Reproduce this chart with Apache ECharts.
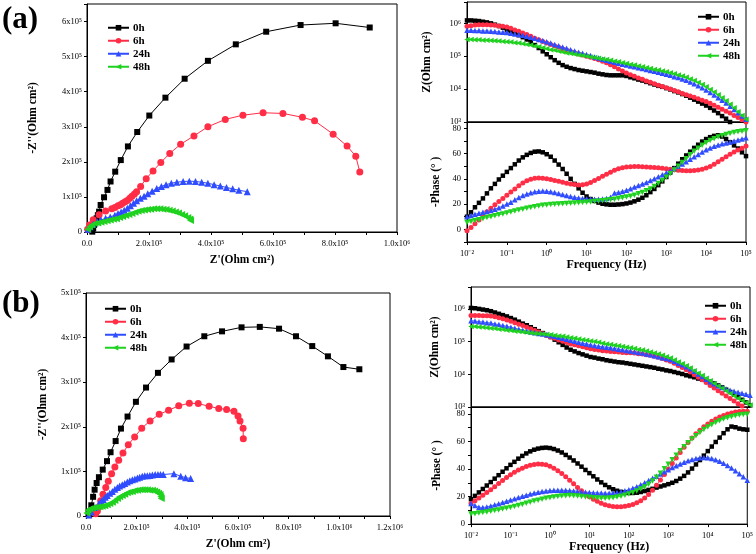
<!DOCTYPE html>
<html><head><meta charset="utf-8">
<script src="https://cdn.jsdelivr.net/npm/echarts@6/dist/echarts.min.js"></script>
<style>html,body{margin:0;padding:0;background:#fff}#c{width:756px;height:554px}</style>
</head><body><div id="c"></div>
<script>
// ---------------- DATA ----------------
const seriesNames = ['0h', '6h', '24h', '48h'];

// Nyquist (a) : [Z', -Z''] in units of 1e5 Ohm cm2
const nyqA_0h = [[0.17,0.01],[0.2,0.1],[0.23,0.2],[0.27,0.3],[0.31,0.39],[0.35,0.48],[0.39,0.58],[0.44,0.77],[0.55,0.99],[0.66,1.2],[0.76,1.44],[0.91,1.72],[1.09,2.05],[1.32,2.44],[1.62,2.85],[2.01,3.32],[2.53,3.83],[3.15,4.37],[3.9,4.88],[4.8,5.35],[5.78,5.71],[6.89,5.9],[8.02,5.95],[9.12,5.83]];
const nyqA_6h = [[0.02,0.08],[0.08,0.2],[0.2,0.35],[0.39,0.49],[0.6,0.6],[0.8,0.66],[0.9,0.7],[1.0,0.75],[1.08,0.78],[1.15,0.82],[1.23,0.86],[1.3,0.9],[1.38,0.96],[1.45,1.02],[1.53,1.08],[1.6,1.15],[1.73,1.3],[1.91,1.52],[2.13,1.74],[2.38,1.98],[2.67,2.24],[3.02,2.5],[3.45,2.74],[3.9,3.0],[4.46,3.21],[5.03,3.33],[5.68,3.4],[6.32,3.38],[6.95,3.27],[7.34,3.17],[7.94,2.79],[8.39,2.45],[8.67,2.16],[8.8,1.71]];
const nyqA_24h = [[0.03,0.08],[0.1,0.15],[0.2,0.22],[0.33,0.29],[0.45,0.34],[0.6,0.39],[0.75,0.43],[0.9,0.48],[1.0,0.53],[1.1,0.57],[1.2,0.62],[1.3,0.68],[1.4,0.75],[1.5,0.82],[1.6,0.89],[1.72,0.96],[1.84,1.02],[1.96,1.09],[2.1,1.16],[2.25,1.24],[2.4,1.3],[2.55,1.35],[2.72,1.39],[2.9,1.42],[3.1,1.44],[3.3,1.45],[3.5,1.44],[3.7,1.42],[3.9,1.39],[4.1,1.35],[4.3,1.31],[4.5,1.27],[4.7,1.23],[4.9,1.19],[5.17,1.15]];
const nyqA_48h = [[0.02,0.08],[0.08,0.15],[0.15,0.2],[0.25,0.24],[0.35,0.26],[0.45,0.28],[0.55,0.3],[0.65,0.32],[0.75,0.34],[0.85,0.36],[0.95,0.38],[1.05,0.41],[1.15,0.44],[1.25,0.47],[1.35,0.5],[1.45,0.53],[1.55,0.56],[1.65,0.59],[1.75,0.61],[1.85,0.63],[1.95,0.64],[2.05,0.65],[2.15,0.66],[2.25,0.66],[2.35,0.66],[2.45,0.65],[2.55,0.64],[2.65,0.62],[2.75,0.6],[2.85,0.57],[2.95,0.54],[3.05,0.5],[3.15,0.46],[3.25,0.41],[3.32,0.37],[3.34,0.33]];

// Nyquist (b) : [Z', -Z''] in units of 1e5 Ohm cm2
const nyqB_0h = [[0.12,0.02],[0.16,0.09],[0.21,0.24],[0.28,0.43],[0.34,0.59],[0.42,0.74],[0.51,0.87],[0.66,1.04],[0.83,1.23],[0.97,1.43],[1.17,1.68],[1.38,1.96],[1.64,2.23],[1.97,2.56],[2.37,2.88],[2.84,3.21],[3.38,3.51],[3.97,3.8],[4.67,4.03],[5.37,4.14],[6.14,4.23],[6.86,4.24],[7.62,4.2],[8.29,4.03],[8.93,3.81],[9.55,3.58],[10.16,3.34],[10.79,3.29]];
const nyqB_6h = [[0.38,0.05],[0.45,0.11],[0.51,0.2],[0.58,0.34],[0.67,0.49],[0.78,0.64],[0.88,0.78],[1.01,0.95],[1.14,1.1],[1.29,1.25],[1.46,1.41],[1.67,1.6],[1.92,1.77],[2.2,1.97],[2.53,2.13],[2.89,2.28],[3.26,2.37],[3.66,2.47],[4.08,2.53],[4.43,2.52],[4.86,2.46],[5.24,2.41],[5.55,2.39],[5.84,2.35],[6.0,2.24],[6.08,2.13],[6.2,1.97],[6.21,1.73]];
const nyqB_24h = [[0.11,0.02],[0.21,0.09],[0.36,0.19],[0.51,0.28],[0.6,0.33],[0.68,0.37],[0.76,0.42],[0.84,0.46],[0.94,0.51],[1.04,0.55],[1.14,0.6],[1.24,0.64],[1.33,0.67],[1.43,0.7],[1.53,0.73],[1.63,0.76],[1.73,0.79],[1.83,0.81],[1.93,0.83],[2.03,0.85],[2.12,0.87],[2.22,0.89],[2.32,0.9],[2.42,0.9],[2.52,0.91],[2.62,0.92],[2.73,0.93],[2.84,0.93],[2.94,0.93],[3.05,0.93],[3.47,0.95],[3.74,0.89],[3.93,0.86],[4.13,0.84]];
const nyqB_48h = [[0.03,0.07],[0.08,0.13],[0.15,0.16],[0.25,0.18],[0.35,0.19],[0.45,0.2],[0.55,0.21],[0.64,0.22],[0.74,0.23],[0.84,0.25],[0.94,0.28],[1.04,0.31],[1.14,0.35],[1.24,0.39],[1.33,0.43],[1.43,0.46],[1.53,0.49],[1.63,0.52],[1.73,0.54],[1.83,0.55],[1.93,0.57],[2.03,0.58],[2.13,0.59],[2.22,0.59],[2.32,0.59],[2.42,0.59],[2.52,0.58],[2.62,0.58],[2.71,0.56],[2.79,0.54],[2.86,0.51],[2.92,0.48],[2.95,0.43],[2.97,0.39]];

// Bode: log10 of frequency (Hz) at each measured point
const logFreq = [-2,-1.9,-1.8,-1.7,-1.6,-1.5,-1.4,-1.3,-1.2,-1.1,-1,-0.9,-0.8,-0.7,-0.6,-0.5,-0.4,-0.3,-0.2,-0.1,0,0.1,0.2,0.3,0.4,0.5,0.6,0.7,0.8,0.9,1,1.1,1.2,1.3,1.4,1.5,1.6,1.7,1.8,1.9,2,2.1,2.2,2.3,2.4,2.5,2.6,2.7,2.8,2.9,3,3.1,3.2,3.3,3.4,3.5,3.6,3.7,3.8,3.9,4,4.1,4.2,4.3,4.4,4.5,4.6,4.7,4.8,4.9,5];

// Bode (a): log10 |Z| (Ohm cm2)
const bodeA_logZ_0h = [6.09,6.09,6.08,6.07,6.05,6.03,6.00,5.96,5.92,5.87,5.81,5.76,5.70,5.64,5.58,5.51,5.43,5.34,5.25,5.15,5.06,4.97,4.88,4.80,4.73,4.68,4.64,4.61,4.58,4.56,4.54,4.52,4.50,4.47,4.45,4.43,4.42,4.42,4.42,4.42,4.40,4.36,4.33,4.29,4.26,4.22,4.18,4.14,4.10,4.07,4.03,3.99,3.94,3.90,3.85,3.80,3.74,3.68,3.62,3.56,3.50,3.43,3.35,3.27,3.18,3.10,3.00,2.90,2.80,2.70,2.60];
const bodeA_logZ_6h = [5.91,5.93,5.95,5.96,5.96,5.96,5.95,5.94,5.92,5.91,5.89,5.85,5.80,5.76,5.71,5.66,5.61,5.55,5.50,5.45,5.40,5.36,5.31,5.27,5.22,5.18,5.14,5.11,5.07,5.04,5.00,4.97,4.93,4.89,4.85,4.80,4.74,4.68,4.61,4.55,4.49,4.44,4.39,4.34,4.30,4.25,4.21,4.16,4.12,4.08,4.04,4.00,3.96,3.92,3.87,3.83,3.79,3.75,3.71,3.66,3.62,3.57,3.51,3.45,3.39,3.33,3.27,3.20,3.14,3.07,3.00];
const bodeA_logZ_24h = [5.79,5.79,5.78,5.78,5.77,5.77,5.76,5.75,5.74,5.73,5.72,5.70,5.68,5.66,5.64,5.61,5.58,5.55,5.51,5.48,5.44,5.40,5.36,5.32,5.28,5.24,5.20,5.16,5.12,5.09,5.05,5.02,4.98,4.95,4.91,4.88,4.85,4.82,4.79,4.76,4.73,4.70,4.68,4.65,4.63,4.60,4.57,4.54,4.51,4.48,4.45,4.42,4.38,4.35,4.31,4.27,4.22,4.16,4.10,4.04,3.97,3.90,3.82,3.74,3.66,3.58,3.48,3.38,3.28,3.18,3.08];
const bodeA_logZ_48h = [5.51,5.51,5.50,5.50,5.49,5.49,5.48,5.47,5.46,5.45,5.44,5.43,5.41,5.40,5.38,5.36,5.34,5.31,5.29,5.26,5.23,5.20,5.18,5.15,5.13,5.10,5.08,5.06,5.04,5.02,5.00,4.98,4.96,4.94,4.92,4.90,4.88,4.85,4.83,4.80,4.78,4.75,4.73,4.70,4.68,4.65,4.63,4.60,4.58,4.55,4.53,4.50,4.47,4.43,4.40,4.36,4.31,4.26,4.20,4.14,4.07,3.99,3.91,3.83,3.74,3.65,3.54,3.43,3.31,3.20,3.08];

// Bode (a): -Phase (deg)
const bodeA_phase_0h = [10,13.5,17.5,21,24.5,28.5,32.5,36,39.5,42.5,45.5,48.5,51.5,54.5,57,59,60.5,61.5,61.7,61,59.5,57.5,54.5,51.3,47.8,44,40,36,32.5,29,26,24,22.5,21.2,20.3,19.8,19.5,19.5,19.7,20,20.5,21.2,22.2,23.5,25,27,29.5,32,35,38,41.5,45,48.5,52,55.5,58.5,61.5,64.5,67,69.5,71.5,73,74,74.5,73.5,71.5,69,66.5,64,61,58];
const bodeA_phase_6h = [-1,1.5,4.5,7.5,11,14,16.8,19.5,22,24.5,27,29.5,32,34.5,36.8,38.5,39.7,40.4,40.6,40.4,40,39.4,38.7,38,37.3,36.6,36,35.5,35.2,35.3,36,37.2,38.6,40.2,42,43.7,45.3,46.8,48,48.8,49.3,49.6,49.7,49.7,49.6,49.4,49.2,49,48.7,48.4,48,47.6,47.2,46.8,46.6,46.5,46.5,46.6,47,47.6,48.5,49.8,51.5,53.5,55.5,57.5,59.5,61.2,62.8,64.3,66];
const bodeA_phase_24h = [10,11,12,12.8,13.5,14.2,15,16,17.2,18.5,20,21.5,23.5,25.2,26.8,28,29,29.7,30.1,30.3,30.2,29.8,29.2,28.4,27.6,26.8,26,25.4,24.9,24.5,24.2,24,23.9,23.9,24.1,24.5,25.5,28.8,29.2,30,31,32.2,33.5,34.8,36,37.2,38.6,40,41.6,43.2,44.8,46.5,48.2,50,51.8,53.6,55.5,57.4,59.3,61.2,63,64.5,65.8,66.8,67.7,68.4,69.2,70,70.8,71.6,72.5];
const bodeA_phase_48h = [5.5,6.2,7,7.7,8.5,9.3,10,10.8,11.5,12.2,13,13.8,14.5,15.3,16,16.7,17.4,18,18.5,19,19.3,19.6,19.8,20,20.2,20.4,20.6,20.8,21,21.2,21.4,21.7,22,22.3,22.6,23,23.4,23.9,24.4,25,25.6,26.3,27.1,28.1,29.2,30.5,32,34,36.3,38.7,41.2,44,47,50,53,56,59,61.8,64.3,66.5,68.5,70.3,71.8,73.1,74.2,75.1,75.9,76.6,77.2,77.7,78];

// Bode (b): log10 |Z| (Ohm cm2)
const bodeB_logZ_0h = [6.03,6.02,6.00,5.98,5.96,5.93,5.89,5.85,5.81,5.77,5.72,5.67,5.61,5.55,5.50,5.44,5.38,5.32,5.26,5.20,5.14,5.06,4.98,4.90,4.82,4.75,4.70,4.65,4.61,4.57,4.53,4.51,4.48,4.46,4.43,4.41,4.39,4.37,4.36,4.34,4.32,4.30,4.28,4.26,4.24,4.22,4.20,4.17,4.15,4.12,4.10,4.07,4.04,4.01,3.97,3.94,3.91,3.87,3.84,3.80,3.77,3.72,3.66,3.60,3.53,3.46,3.38,3.30,3.22,3.14,3.05];
const bodeB_logZ_6h = [5.80,5.80,5.80,5.79,5.79,5.78,5.76,5.73,5.70,5.66,5.62,5.58,5.53,5.49,5.44,5.39,5.34,5.29,5.24,5.19,5.14,5.10,5.05,5.01,4.97,4.93,4.90,4.87,4.84,4.81,4.78,4.76,4.74,4.72,4.71,4.70,4.69,4.68,4.67,4.66,4.66,4.65,4.63,4.62,4.60,4.58,4.55,4.52,4.48,4.44,4.40,4.34,4.27,4.21,4.14,4.07,3.99,3.91,3.83,3.75,3.66,3.58,3.50,3.42,3.34,3.26,3.18,3.10,3.03,2.97,2.92];
const bodeB_logZ_24h = [5.64,5.63,5.61,5.60,5.58,5.57,5.54,5.52,5.49,5.47,5.44,5.41,5.38,5.35,5.32,5.29,5.27,5.25,5.23,5.21,5.19,5.16,5.13,5.10,5.07,5.04,5.01,4.98,4.95,4.93,4.90,4.88,4.86,4.84,4.83,4.81,4.79,4.77,4.75,4.73,4.71,4.69,4.67,4.65,4.62,4.60,4.57,4.54,4.51,4.48,4.45,4.40,4.34,4.29,4.23,4.17,4.09,4.01,3.93,3.85,3.77,3.71,3.65,3.60,3.55,3.51,3.48,3.45,3.42,3.39,3.36];
const bodeB_logZ_48h = [5.46,5.46,5.45,5.44,5.42,5.41,5.40,5.38,5.37,5.35,5.34,5.32,5.31,5.29,5.28,5.26,5.25,5.24,5.23,5.22,5.21,5.19,5.17,5.16,5.14,5.12,5.10,5.08,5.06,5.04,5.02,5.00,4.98,4.95,4.93,4.91,4.89,4.87,4.85,4.83,4.81,4.79,4.76,4.74,4.71,4.68,4.65,4.62,4.58,4.54,4.50,4.44,4.38,4.32,4.26,4.19,4.11,4.03,3.96,3.88,3.80,3.72,3.64,3.57,3.49,3.41,3.34,3.27,3.20,3.13,3.06];

// Bode (b): -Phase (deg)
const bodeB_phase_0h = [18,20.5,23,25.5,28,30.5,33,35.5,38,40.5,43,45.2,47.5,49.5,51.3,52.8,54,54.8,55.3,55.5,55.2,54.5,53.4,52,50.2,48.3,46.2,44,41.7,39.3,37,34.7,32.4,30.3,28.4,26.7,25.3,24.2,23.4,22.9,22.6,22.6,22.8,23.3,24,24.8,25.6,26.5,27.3,28.1,29,30,31.3,33,35,37.5,40.3,43.3,46.5,49.7,53,56.3,59.6,62.8,66,68.8,70.8,70.3,69.3,68.8,68.5];
const bodeB_phase_6h = [15,17,19,21,23,25,27.2,29.5,31.7,33.8,35.8,37.6,39.2,40.6,41.8,42.7,43.3,43.6,43.5,43,42,40.6,38.8,36.7,34.3,31.8,29.2,26.6,24.2,21.9,19.9,18.1,16.5,15.2,14.1,13.3,12.8,12.6,12.6,12.9,13.5,14.3,15.5,17,19,21.5,24.6,28.2,32,36,40,44,48,52,55.8,59.3,62.5,65.5,68.2,70.6,72.7,74.6,76.3,77.7,78.9,79.9,80.7,81.3,81.7,81.9,82];
const bodeB_phase_24h = [15,13.5,12.3,12,12.5,13.2,14,14.8,15.7,16.6,17.5,18.4,19.3,20.2,21,21.8,22.5,23.1,23.6,24,24.3,24.5,24.6,24.6,24.5,24.3,24.1,23.8,23.5,23.2,23,22.8,22.6,22.5,22.4,22.4,22.6,23,23.5,24.2,25,26,27.2,28.5,30,31.6,33.2,34.8,36.4,38,39.5,41,42.4,43.7,44.9,46,46.9,47.6,48.1,48.3,48.2,47.7,46.8,45.6,44.2,42.6,40.8,38.8,36.6,34.3,31.8];
const bodeB_phase_48h = [7.3,7.6,8,8.4,8.8,9.3,9.8,10.3,10.9,11.5,12.1,12.8,13.5,14.3,15.1,15.9,16.7,17.4,18.1,18.7,19.2,19.7,20.1,20.4,20.6,20.7,20.6,20.4,20.1,19.7,19.4,19.1,18.9,18.8,18.8,18.9,19.2,19.6,20.2,20.9,21.8,22.8,24,25.4,27,29,31.3,34,37,40.2,43.5,46.8,50,53.2,56.2,59,61.7,64.2,66.5,68.6,70.5,72.2,73.7,75,76.2,77.2,78,78.7,79.2,79.6,79.8];

// ---------------- STYLE / BUILD ----------------
const FONT = "'Liberation Serif','Times New Roman',serif";
const STY = {
  '0h':  {color:'#000000', symbol:'rect',     rot:0,  nSize:6, bSize:4.5},
  '6h':  {color:'#ff2d46', symbol:'circle',   rot:0,  nSize:7, bSize:5},
  '24h': {color:'#2f4cff', symbol:'triangle', rot:0,  nSize:7, bSize:5.5},
  '48h': {color:'#1fd21f', symbol:'triangle', rot:90, nSize:7, bSize:5.5}
};
const SUP = {'0':'⁰','1':'¹','2':'²','3':'³','4':'⁴','5':'⁵','6':'⁶','7':'⁷','8':'⁸','9':'⁹','-':'⁻'};
const sup = n => String(n).split('').map(c => SUP[c]).join('');

function fmtPow(v) {
  const e = Math.log10(v), r = Math.round(e);
  return Math.abs(e - r) < 1e-6 ? '10' + sup(r) : '';
}
function fmtPhase(v) {
  const r = Math.round(v);
  return (Math.abs(v - r) < 1e-6 && r % 20 === 0 && r >= 0 && r <= 80) ? String(r) : '';
}
function fmtNyqX(v) {
  const r = Math.round(v);
  if (Math.abs(v - r) > 1e-6 || r % 2 !== 0) return '';
  if (r === 0) return '0.0';
  if (r < 10) return r.toFixed(1) + 'x10⁵';
  return (r / 10).toFixed(1) + 'x10⁶';
}
function fmtNyqY(v) {
  const r = Math.round(v);
  if (Math.abs(v - r) > 1e-6) return '';
  return r === 0 ? '0' : r + 'x10⁵';
}

function axis(extra) {
  const base = {
    axisLine: {show: true, onZero: false, lineStyle: {color: '#000', width: 1}},
    axisTick: {show: true, length: 3, lineStyle: {color: '#000', width: 1}},
    splitLine: {show: false},
    axisLabel: {fontFamily: FONT, fontSize: 8.5, color: '#000', margin: 6},
    nameTextStyle: {fontFamily: FONT, fontWeight: 'bold', fontSize: 11.5, color: '#000'},
    nameLocation: 'middle'
  };
  const o = Object.assign({}, base, extra);
  ['axisLine','axisTick','axisLabel','nameTextStyle'].forEach(k => {
    if (extra[k]) o[k] = Object.assign({}, base[k], extra[k]);
  });
  return o;
}

const grids = [
  {left: 87,  top: 4,   width: 310, height: 228},
  {left: 467, top: 2,   width: 279, height: 120},
  {left: 467, top: 122, width: 279, height: 120},
  {left: 86,  top: 293, width: 304, height: 223},
  {left: 471, top: 287, width: 279, height: 120},
  {left: 471, top: 407, width: 279, height: 120}
].map(g => Object.assign({show: true, borderColor: '#000', borderWidth: 1, backgroundColor: 'transparent', containLabel: false}, g));

const xAxes = [
  axis({gridIndex: 0, type: 'value', min: 0, max: 10, interval: 1, axisLabel: {formatter: fmtNyqX, margin: 7}, name: "Z'(Ohm cm²)", nameGap: 22}),
  axis({gridIndex: 1, type: 'log', logBase: 10, min: 0.01, max: 1e5, axisLabel: {show: false}, axisTick: {show: false}}),
  axis({gridIndex: 2, type: 'log', logBase: 10, min: 0.01, max: 1e5, axisLabel: {formatter: fmtPow, margin: 7}, name: 'Frequency (Hz)', nameGap: 15, nameTextStyle: {fontSize: 12}}),
  axis({gridIndex: 3, type: 'value', min: 0, max: 12, interval: 1, axisLabel: {formatter: fmtNyqX, margin: 7}, name: "Z'(Ohm cm²)", nameGap: 22}),
  axis({gridIndex: 4, type: 'log', logBase: 10, min: 0.01, max: 1e5, axisLabel: {show: false}, axisTick: {show: false}}),
  axis({gridIndex: 5, type: 'log', logBase: 10, min: 0.01, max: 1e5, axisLabel: {formatter: fmtPow, margin: 7}, name: 'Frequency (Hz)', nameGap: 14, nameTextStyle: {fontSize: 12}})
];
const yAxes = [
  axis({gridIndex: 0, type: 'value', min: 0, max: 6.5, interval: 1, axisLabel: {formatter: fmtNyqY, margin: 5}, name: "-Z''(Ohm cm²)", nameGap: 48}),
  axis({gridIndex: 1, type: 'log', logBase: 10, min: 1000, max: Math.pow(10, 6.65), axisLabel: {formatter: fmtPow}, name: 'Z(Ohm cm²)', nameGap: 34}),
  axis({gridIndex: 2, type: 'value', min: -10, max: 85, interval: 10, axisLabel: {formatter: fmtPhase}, name: '-Phase (° )', nameGap: 25}),
  axis({gridIndex: 3, type: 'value', min: 0, max: 5, interval: 1, axisLabel: {formatter: fmtNyqY, margin: 5}, name: "-Z''(Ohm cm²)", nameGap: 37}),
  axis({gridIndex: 4, type: 'log', logBase: 10, min: 1000, max: Math.pow(10, 6.67), axisLabel: {formatter: fmtPow}, name: 'Z(Ohm cm²)', nameGap: 30}),
  axis({gridIndex: 5, type: 'value', min: 0, max: 85, interval: 10, axisLabel: {formatter: fmtPhase}, name: '-Phase (° )', nameGap: 28})
];

function nyqSeries(name, data, idx) {
  const s = STY[name];
  return {type: 'line', name, xAxisIndex: idx, yAxisIndex: idx, data,
    symbol: s.symbol, symbolSize: s.nSize, symbolRotate: s.rot, showAllSymbol: true,
    itemStyle: {color: s.color}, lineStyle: {color: s.color, width: 1}, z: 3};
}
function bodeSeries(name, vals, idx, isLogZ, rot) {
  const s = STY[name];
  const data = logFreq.map((lf, i) => [Math.pow(10, lf), isLogZ ? Math.pow(10, vals[i]) : vals[i]]);
  return {type: 'line', name, xAxisIndex: idx, yAxisIndex: idx, data,
    symbol: s.symbol, symbolSize: s.bSize, symbolRotate: rot == null ? s.rot : rot, showAllSymbol: true,
    itemStyle: {color: s.color}, lineStyle: {color: s.color, width: 0.8}, z: 3};
}

const series = [
  nyqSeries('0h', nyqA_0h, 0), nyqSeries('6h', nyqA_6h, 0), nyqSeries('24h', nyqA_24h, 0), nyqSeries('48h', nyqA_48h, 0),
  nyqSeries('0h', nyqB_0h, 3), nyqSeries('6h', nyqB_6h, 3), nyqSeries('24h', nyqB_24h, 3), nyqSeries('48h', nyqB_48h, 3),
  bodeSeries('0h', bodeA_logZ_0h, 1, true), bodeSeries('6h', bodeA_logZ_6h, 1, true), bodeSeries('24h', bodeA_logZ_24h, 1, true), bodeSeries('48h', bodeA_logZ_48h, 1, true),
  bodeSeries('0h', bodeA_phase_0h, 2, false), bodeSeries('6h', bodeA_phase_6h, 2, false), bodeSeries('24h', bodeA_phase_24h, 2, false), bodeSeries('48h', bodeA_phase_48h, 2, false, 180),
  bodeSeries('0h', bodeB_logZ_0h, 4, true), bodeSeries('6h', bodeB_logZ_6h, 4, true), bodeSeries('24h', bodeB_logZ_24h, 4, true), bodeSeries('48h', bodeB_logZ_48h, 4, true),
  bodeSeries('0h', bodeB_phase_0h, 5, false), bodeSeries('6h', bodeB_phase_6h, 5, false), bodeSeries('24h', bodeB_phase_24h, 5, false), bodeSeries('48h', bodeB_phase_48h, 5, false, 180)
];

function legend(left, top) {
  return {data: seriesNames, left, top, orient: 'vertical', itemWidth: 21, itemHeight: 7, itemGap: 1.5,
    selectedMode: false,
    textStyle: {fontFamily: FONT, fontWeight: 'bold', fontSize: 11, color: '#000', lineHeight: 11.5, padding: [0, 0, 0, -1]}};
}

const option = {
  animation: false,
  backgroundColor: '#fff',
  grid: grids,
  xAxis: xAxes,
  yAxis: yAxes,
  legend: [legend(102, 17), legend(692, 6), legend(99, 298), legend(699, 295)],
  graphic: [
    {type: 'text', left: 2, top: 4, style: {text: '(a)', font: 'bold 31px ' + FONT, fill: '#000'}},
    {type: 'text', left: 2, top: 288, style: {text: '(b)', font: 'bold 31px ' + FONT, fill: '#000'}}
  ],
  series
};

const chart = echarts.init(document.getElementById('c'), null, {renderer: 'canvas'});
chart.setOption(option);
</script>
</body></html>
